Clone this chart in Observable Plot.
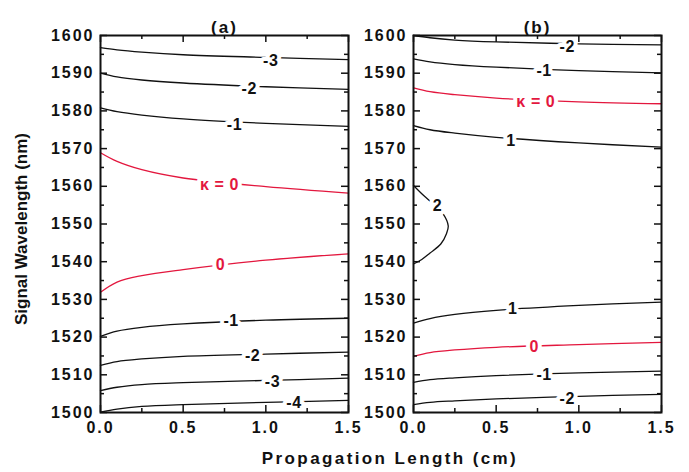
<!DOCTYPE html>
<html>
<head>
<meta charset="utf-8">
<script src="https://cdn.jsdelivr.net/npm/d3@7"></script>
<script src="https://cdn.jsdelivr.net/npm/@observablehq/plot@0.6"></script>
<style>
  html, body { margin: 0; padding: 0; background: #fff; overflow: hidden; }
  #wrap { position: relative; width: 689px; height: 472px; font-family: "Liberation Sans", Arial, sans-serif; }
  #wrap svg { position: absolute; top: 0; background: none !important; overflow: visible; }
  #wrap svg text { letter-spacing: 2px; }
  #wrap svg g[aria-description="contour label"] text { letter-spacing: 0.6px; }
  #xtitle { position: absolute; left: 190px; width: 400px; top: 449px; line-height: 20px; text-align: center;
            font-size: 17px; font-weight: bold; letter-spacing: 2.4px; color: #111; }
  #ytitle { position: absolute; left: -178px; top: 219px; width: 400px; height: 20px; line-height: 20px; text-align: center;
            font-size: 17px; font-weight: bold; letter-spacing: 0px; color: #111;
            transform: rotate(-90deg); transform-origin: 200px 10px; }
</style>
</head>
<body>
<div id="wrap"></div>
<script>
// ---- data ----
const lengthGrid = [0, 0.1, 0.25, 0.5, 1.0, 1.5];   // propagation length (cm)

// panel (a): wavelength (nm) of each kappa contour at lengthGrid
const aKm3Upper = [1596.8, 1596.2, 1595.6, 1594.9, 1594.2, 1593.6];
const aKm2Upper = [1590.0, 1589.0, 1588.2, 1587.4, 1586.4, 1585.7];
const aKm1Upper = [1580.8, 1579.8, 1578.9, 1577.9, 1576.7, 1575.9];
const aK0Upper  = [1568.9, 1566.6, 1564.4, 1562.2, 1559.9, 1558.2];
const aK0Lower  = [1531.9, 1534.6, 1536.3, 1537.9, 1540.4, 1542.1];
const aKm1Lower = [1520.2, 1521.6, 1522.6, 1523.5, 1524.5, 1525.0];
const aKm2Lower = [1512.5, 1513.5, 1514.2, 1514.9, 1515.5, 1516.0];
const aKm3Lower = [1505.8, 1506.7, 1507.4, 1507.9, 1508.5, 1509.1];
const aKm4Lower = [1500.1, 1500.9, 1501.6, 1502.1, 1502.7, 1503.2];

// panel (b)
const bKm2Upper = [1600.0, 1599.4, 1598.8, 1598.3, 1597.8, 1597.5];
const bKm1Upper = [1593.8, 1593.0, 1592.3, 1591.6, 1590.7, 1590.1];
const bK0Upper  = [1586.1, 1585.1, 1584.3, 1583.4, 1582.4, 1581.9];
const bK1Upper  = [1576.1, 1575.0, 1574.1, 1573.0, 1571.5, 1570.4];
const bK1Lower  = [1523.7, 1524.9, 1526.0, 1527.1, 1528.4, 1529.3];
const bK0Lower  = [1514.9, 1515.9, 1516.6, 1517.3, 1518.0, 1518.6];
const bKm1Lower = [1508.0, 1508.7, 1509.2, 1509.8, 1510.5, 1511.0];
const bKm2Lower = [1502.1, 1502.7, 1503.1, 1503.6, 1504.3, 1504.8];
// closed kappa = 2 contour near the left edge of panel (b)
const bK2LoopLen = [0, 0.06, 0.12, 0.18, 0.21, 0.20, 0.165, 0.10, 0.05, 0];
const bK2LoopWl  = [1560.2, 1557.6, 1555.3, 1552.6, 1549.5, 1547.5, 1544.7, 1542.3, 1540.6, 1539.4];

// contour labels
const labelsAText = ["-3", "-2", "-1", "κ = 0", "0", "-1", "-2", "-3", "-4"];
const labelsAX    = [1.03, 0.90, 0.81, 0.72, 0.726, 0.79, 0.92, 1.04, 1.17];
const labelsAY    = [1593.2, 1585.9, 1576.4, 1560.4, 1539.2, 1524.2, 1515.1, 1508.2, 1502.5];
const labelsBText = ["-2", "-1", "κ = 0", "1", "2", "1", "0", "-1", "-2"];
const labelsBX    = [0.93, 0.79, 0.74, 0.59, 0.145, 0.60, 0.73, 0.79, 0.93];
const labelsBY    = [1596.9, 1590.5, 1582.3, 1572.0, 1554.9, 1527.5, 1517.3, 1510.1, 1503.6];

const xMajor = [0, 0.5, 1.0, 1.5];
const xMinor = [0.25, 0.75, 1.25];
const yMajor = d3.range(1500, 1601, 10);
const yMinor = d3.range(1505, 1600, 10);

const panelTitles = ["(a)", "(b)"];
const yTitle = "Signal Wavelength (nm)";
const xTitle = "Propagation Length (cm)";

// ---- build ----
const RED = "#e3173e", INK = "#111";
const H = 440, MT = 35, MB = 28, PW = 248;
const IH = H - MT - MB;

function rows(series) {
  return series.flatMap((s, i) => s.wl.map((w, j) => ({id: i, k: s.k, len: s.len ? s.len[j] : lengthGrid[j], wl: w})));
}
function labels(t, xs, ys) {
  return t.map((s, i) => ({text: s, len: xs[i], wl: ys[i], red: /0$/.test(s)}));
}

function panel({series, labs, title, left, width, marginLeft, marginRight}) {
  const data = rows(series);
  const labelOpts = {x: "len", y: "wl", text: "text", stroke: "white", strokeWidth: 8, paintOrder: "stroke",
                     fontSize: 16, fontWeight: "bold", ariaDescription: "contour label"};
  const marks = [
    Plot.line(data.filter(d => d.k !== 0), {x: "len", y: "wl", z: "id", stroke: INK, strokeWidth: 1.3, curve: "catmull-rom"}),
    Plot.line(data.filter(d => d.k === 0), {x: "len", y: "wl", z: "id", stroke: RED, strokeWidth: 1.3, curve: "catmull-rom"}),
    Plot.text(labs.filter(d => !d.red), {...labelOpts, fill: INK}),
    Plot.text(labs.filter(d => d.red), {...labelOpts, fill: RED}),
    Plot.axisX({anchor: "bottom", ticks: xMajor, tickFormat: d3.format(".1f"), tickSize: 0, tickPadding: 9, fontSize: 16, fontWeight: "bold", fill: INK, label: null}),
    Plot.axisY({anchor: "left", ticks: yMajor, tickFormat: d3.format("d"), tickSize: 0, tickPadding: 6, fontSize: 16, fontWeight: "bold", fill: INK, label: null}),
    // inward ticks on all four sides
    Plot.ruleX(xMajor, {x: d => d, insetTop: IH - 7, stroke: INK, strokeWidth: 1.5}),
    Plot.ruleX(xMinor, {x: d => d, insetTop: IH - 4, stroke: INK, strokeWidth: 1.5}),
    Plot.ruleX(xMajor, {x: d => d, insetBottom: IH - 7, stroke: INK, strokeWidth: 1.5}),
    Plot.ruleX(xMinor, {x: d => d, insetBottom: IH - 4, stroke: INK, strokeWidth: 1.5}),
    Plot.ruleY(yMajor, {y: d => d, insetRight: PW - 7, stroke: INK, strokeWidth: 1.5}),
    Plot.ruleY(yMinor, {y: d => d, insetRight: PW - 4, stroke: INK, strokeWidth: 1.5}),
    Plot.ruleY(yMajor, {y: d => d, insetLeft: PW - 7, stroke: INK, strokeWidth: 1.5}),
    Plot.ruleY(yMinor, {y: d => d, insetLeft: PW - 4, stroke: INK, strokeWidth: 1.5}),
    Plot.frame({stroke: INK, strokeWidth: 2}),
    Plot.text([title], {frameAnchor: "top", dy: -15, fontSize: 17, fontWeight: "bold", fill: INK})
  ];
  const svg = Plot.plot({
    width, height: H, marginLeft, marginRight, marginTop: MT, marginBottom: MB,
    x: {domain: [0, 1.5], label: null},
    y: {domain: [1500, 1600], label: null},
    style: {fontFamily: "'Liberation Sans', Arial, sans-serif", fontSize: "16px", background: "none", color: INK},
    marks
  });
  svg.style.left = left + "px";
  return svg;
}

const wrap = document.getElementById("wrap");
wrap.append(panel({
  series: [
    {k: -3, wl: aKm3Upper}, {k: -2, wl: aKm2Upper}, {k: -1, wl: aKm1Upper}, {k: 0, wl: aK0Upper},
    {k: 0, wl: aK0Lower}, {k: -1, wl: aKm1Lower}, {k: -2, wl: aKm2Lower}, {k: -3, wl: aKm3Lower}, {k: -4, wl: aKm4Lower}
  ],
  labs: labels(labelsAText, labelsAX, labelsAY),
  title: panelTitles[0], left: 0, width: 360, marginLeft: 100, marginRight: 12
}));
wrap.append(panel({
  series: [
    {k: -2, wl: bKm2Upper}, {k: -1, wl: bKm1Upper}, {k: 0, wl: bK0Upper}, {k: 1, wl: bK1Upper},
    {k: 2, wl: bK2LoopWl, len: bK2LoopLen},
    {k: 1, wl: bK1Lower}, {k: 0, wl: bK0Lower}, {k: -1, wl: bKm1Lower}, {k: -2, wl: bKm2Lower}
  ],
  labs: labels(labelsBText, labelsBX, labelsBY),
  title: panelTitles[1], left: 350, width: 339, marginLeft: 63, marginRight: 28
}));
const xt = document.createElement("div");
xt.id = "xtitle";
xt.textContent = xTitle;
wrap.append(xt);
const yt = document.createElement("div");
yt.id = "ytitle";
yt.textContent = yTitle;
wrap.append(yt);
</script>
</body>
</html>
